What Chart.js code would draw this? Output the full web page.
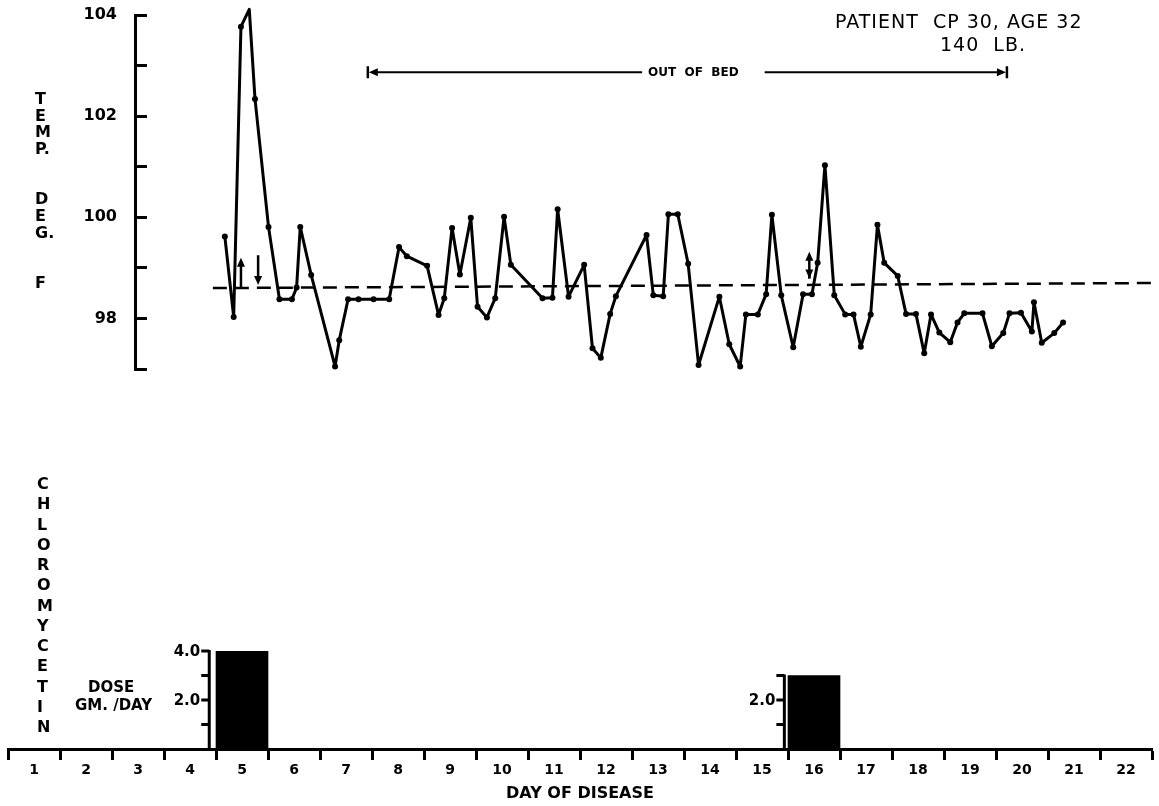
<!DOCTYPE html>
<html>
<head>
<meta charset="utf-8">
<title>Patient CP 30 - temperature and Chloromycetin dose</title>
<script src="https://cdn.jsdelivr.net/npm/chart.js@4.4.1/dist/chart.umd.min.js"></script>
<style>
  body { margin: 0; background: #fff; }
  #wrap { position: relative; width: 1159px; height: 806px; overflow: hidden; }
  canvas { position: absolute; left: 0; top: 0; }
  .txt { position: absolute; font-family: "DejaVu Sans", sans-serif; color: #000; white-space: pre; }
  .bold { font-weight: bold; }
</style>
</head>
<body>
<div id="wrap">
  <canvas id="doseChart" width="1159" height="806"></canvas>
  <canvas id="tempChart" width="1159" height="806"></canvas>

  <div class="txt" style="left:835px; top:11px; font-size:19px; line-height:20px; letter-spacing:1px;">PATIENT  CP 30, AGE 32</div>
  <div class="txt" style="left:940px; top:34px; font-size:19px; line-height:20px; letter-spacing:1px;">140  LB.</div>

  <div class="txt bold" style="left:35px; top:91px; font-size:16px; line-height:16.7px;">T<br>E<br>M<br>P.<br><br><br>D<br>E<br>G.<br><br><br>F</div>
  <div class="txt bold" style="left:37px; top:474px; font-size:16px; line-height:20.25px;">C<br>H<br>L<br>O<br>R<br>O<br>M<br>Y<br>C<br>E<br>T<br>I<br>N</div>
  <div class="txt bold" style="left:88px; top:679px; font-size:15px; line-height:17px;">DOSE</div>
  <div class="txt bold" style="left:75px; top:697px; font-size:15px; line-height:17px;">GM. /DAY</div>
</div>

<script>
// day numbers on the axis
var DAYS = ['1', '2', '3', '4', '5', '6', '7', '8', '9', '10', '11',
            '12', '13', '14', '15', '16', '17', '18', '19', '20', '21', '22'];

// chloromycetin dose, gm/day, one value per day
var DOSE = [null, null, null, null, 4.0, null, null, null, null, null, null,
            null, null, null, null, 3.0, null, null, null, null, null, null];

// time of each reading, in days counted from the start of day 1
var TIME = [4.17, 4.34, 4.48, 4.64, 4.75, 5.01, 5.22, 5.46, 5.55, 5.62, 5.83, 6.29, 6.37, 6.54, 6.74,
            7.03, 7.33, 7.52, 7.67, 8.06, 8.28, 8.39, 8.54, 8.69, 8.90, 9.03, 9.21, 9.37, 9.54, 9.67,
            10.28, 10.47, 10.57, 10.78, 11.08, 11.24, 11.40, 11.58, 11.69, 12.28, 12.41, 12.60, 12.70, 12.88,
            13.08, 13.28, 13.68, 13.87, 14.08, 14.19, 14.42, 14.58, 14.69, 14.87, 15.10, 15.29, 15.46, 15.57,
            15.71, 15.89, 16.10, 16.26, 16.40, 16.59, 16.72, 16.85, 17.11, 17.27, 17.46, 17.62, 17.75, 17.91,
            18.12, 18.26, 18.39, 18.74, 18.92, 19.14, 19.26, 19.48, 19.69, 19.73, 19.88, 20.12, 20.29];

// temperature, deg F
var TEMP = [99.62, 98.03, 103.77, 104.11, 102.34, 99.81, 98.38, 98.38, 98.61, 99.81, 98.86, 97.05, 97.57, 98.38, 98.38,
            98.38, 98.38, 99.41, 99.23, 99.04, 98.07, 98.40, 99.79, 98.87, 99.99, 98.23, 98.02, 98.40, 100.01, 99.06,
            98.40, 98.41, 100.16, 98.43, 99.06, 97.41, 97.22, 98.09, 98.44, 99.65, 98.46, 98.44, 100.06, 100.06,
            99.08, 97.08, 98.43, 97.49, 97.05, 98.08, 98.08, 98.48, 100.05, 98.46, 97.43, 98.48, 98.48, 99.10,
            101.03, 98.46, 98.08, 98.08, 97.44, 98.08, 99.85, 99.10, 98.84, 98.09, 98.09, 97.31, 98.08, 97.72,
            97.53, 97.92, 98.10, 98.10, 97.45, 97.71, 98.10, 98.11, 97.74, 98.32, 97.52, 97.71, 97.92];

// normal temperature reference (dashed)
var NORMAL_TIME = [3.94, 22];
var NORMAL_TEMP = [98.6, 98.7];

// "out of bed" period
var OUT_OF_BED = [6.92, 19.21];

// drug start / stop arrows: [time, from temp, to temp, heads]
var DRUG_MARKS = [
    [4.48, 98.6, 99.2, 'end'],
    [4.81, 99.25, 98.66, 'end'],
    [15.41, 98.79, 99.32, 'both']
];

// small dose axes next to each bar: [time, top value, labelled values]
var DOSE_AXES = [
    [3.87, 4, [4, 2]],
    [14.93, 3, [2]]
];

var TEMP_TICKS_LABELLED = [98, 100, 102, 104];

Chart.defaults.font.family = '"DejaVu Sans", sans-serif';
Chart.defaults.color = '#000';

// chart area edges on the page
var PLOT_LEFT = 8, PLOT_RIGHT = 1152;
var dayWidth = (PLOT_RIGHT - PLOT_LEFT) / DAYS.length;
var tempAxisLeft = 135;

function head(ctx, x, y, dx, dy) {
    // filled arrow head with tip at (x, y) pointing along (dx, dy)
    var len = 9, half = 4;
    ctx.beginPath();
    ctx.moveTo(x, y);
    ctx.lineTo(x - dx * len - dy * half, y - dy * len - dx * half);
    ctx.lineTo(x - dx * len + dy * half, y - dy * len + dx * half);
    ctx.closePath();
    ctx.fill();
}

var tempMarks = {
    id: 'tempMarks',
    afterDatasetsDraw: function (chart) {
        var ctx = chart.ctx;
        var xs = chart.scales.x, ys = chart.scales.y;
        ctx.save();
        ctx.strokeStyle = '#000';
        ctx.fillStyle = '#000';
        ctx.lineWidth = 2.5;

        DRUG_MARKS.forEach(function (m) {
            var x = xs.getPixelForValue(m[0]);
            var y1 = ys.getPixelForValue(m[1]);
            var y2 = ys.getPixelForValue(m[2]);
            var dir = y2 < y1 ? -1 : 1;
            ctx.beginPath();
            ctx.moveTo(x, y1);
            ctx.lineTo(x, y2 - dir * 6);
            ctx.stroke();
            head(ctx, x, y2, 0, dir);
            if (m[3] === 'both') {
                ctx.beginPath();
                ctx.moveTo(x, y1);
                ctx.lineTo(x, y1 + dir * 6);
                ctx.stroke();
                head(ctx, x, y1, 0, -dir);
            }
        });

        // out of bed bracket
        var yb = ys.getPixelForValue(102.87);
        var xa = xs.getPixelForValue(OUT_OF_BED[0]);
        var xb = xs.getPixelForValue(OUT_OF_BED[1]);
        var label = 'OUT  OF  BED';
        ctx.font = 'bold 12px "DejaVu Sans"';
        ctx.textAlign = 'center';
        ctx.textBaseline = 'middle';
        var xc = (xa + xb) / 2 + 6;
        var w = ctx.measureText(label).width;
        ctx.fillText(label, xc, yb + 1);
        ctx.lineWidth = 2;
        ctx.beginPath();
        ctx.moveTo(xa + 6, yb);
        ctx.lineTo(xc - w / 2 - 6, yb);
        ctx.moveTo(xc + w / 2 + 26, yb);
        ctx.lineTo(xb - 6, yb);
        ctx.stroke();
        head(ctx, xa + 1, yb, -1, 0);
        head(ctx, xb - 1, yb, 1, 0);
        ctx.lineWidth = 2.5;
        ctx.beginPath();
        ctx.moveTo(xa, yb - 6);
        ctx.lineTo(xa, yb + 6);
        ctx.moveTo(xb, yb - 6);
        ctx.lineTo(xb, yb + 6);
        ctx.stroke();
        ctx.restore();
    }
};

var doseAxes = {
    id: 'doseAxes',
    afterDatasetsDraw: function (chart) {
        var ctx = chart.ctx;
        var xs = chart.scales.xt, ys = chart.scales.y;
        ctx.save();
        ctx.strokeStyle = '#000';
        ctx.fillStyle = '#000';
        ctx.font = 'bold 15px "DejaVu Sans"';
        ctx.textAlign = 'right';
        ctx.textBaseline = 'middle';
        DOSE_AXES.forEach(function (a) {
            var x = xs.getPixelForValue(a[0]);
            ctx.lineWidth = 3;
            ctx.beginPath();
            ctx.moveTo(x, ys.getPixelForValue(0));
            ctx.lineTo(x, ys.getPixelForValue(a[1]) - 1);
            for (var v = 1; v <= a[1]; v++) {
                var y = ys.getPixelForValue(v);
                ctx.moveTo(x, y);
                ctx.lineTo(x - 8, y);
            }
            ctx.stroke();
            a[2].forEach(function (v) {
                ctx.fillText(v.toFixed(1), x - 9, ys.getPixelForValue(v) + 1);
            });
        });
        ctx.restore();
    }
};

var tempPoints = TIME.map(function (t, i) { return { x: t, y: TEMP[i] }; });
var normalPoints = NORMAL_TIME.map(function (t, i) { return { x: t, y: NORMAL_TEMP[i] }; });

new Chart(document.getElementById('tempChart'), {
    type: 'line',
    data: {
        datasets: [{
            label: 'Temp. deg. F',
            data: tempPoints,
            borderColor: '#000',
            backgroundColor: '#000',
            borderWidth: 3,
            borderJoinStyle: 'round',
            borderCapStyle: 'round',
            pointRadius: 3,
            pointBorderWidth: 0,
            tension: 0,
            clip: false
        }, {
            label: 'Normal',
            data: normalPoints,
            borderColor: '#000',
            borderWidth: 2.5,
            borderDash: [14, 8],
            pointRadius: 0,
            clip: false
        }]
    },
    options: {
        responsive: false,
        animation: false,
        events: [],
        layout: { padding: { left: 0, top: 15, right: 1159 - PLOT_RIGHT, bottom: 806 - 369 } },
        plugins: { legend: { display: false }, tooltip: { enabled: false } },
        scales: {
            x: {
                type: 'linear',
                display: false,
                offset: false,
                min: (tempAxisLeft - PLOT_LEFT) / dayWidth,
                max: DAYS.length
            },
            y: {
                type: 'linear',
                position: 'left',
                min: 97,
                max: 104,
                afterFit: function (scale) {
                    scale.width = tempAxisLeft;
                    scale.paddingTop = 0;
                    scale.paddingBottom = 0;
                },
                border: { color: '#000', width: 3 },
                grid: { drawOnChartArea: false, tickLength: -12, tickWidth: 3, tickColor: '#000' },
                ticks: {
                    stepSize: 1,
                    padding: 30,
                    font: { size: 16, weight: 'bold' },
                    callback: function (v) { return TEMP_TICKS_LABELLED.indexOf(v) >= 0 ? String(v) : ''; }
                }
            }
        }
    },
    plugins: [tempMarks]
});

new Chart(document.getElementById('doseChart'), {
    type: 'bar',
    data: {
        labels: DAYS,
        datasets: [{
            label: 'Dose gm./day',
            data: DOSE,
            xAxisID: 'x',
            yAxisID: 'y',
            backgroundColor: '#000',
            borderWidth: 0,
            barPercentage: 1,
            categoryPercentage: 1
        }]
    },
    options: {
        responsive: false,
        animation: false,
        events: [],
        layout: { padding: { left: PLOT_LEFT, top: 651, right: 1159 - PLOT_RIGHT, bottom: 0 } },
        plugins: { legend: { display: false }, tooltip: { enabled: false } },
        scales: {
            x: {
                type: 'category',
                position: 'bottom',
                offset: true,
                afterFit: function (scale) { scale.height = 806 - 749; },
                border: { color: '#000', width: 3 },
                grid: { offset: true, drawOnChartArea: false, tickLength: 11, tickWidth: 3, tickColor: '#000' },
                ticks: { padding: 2, maxRotation: 0, autoSkip: false, font: { size: 14, weight: 'bold' } },
                title: { display: true, text: 'DAY OF DISEASE', font: { size: 16, weight: 'bold' }, padding: { top: 0, bottom: 3 } }
            },
            xt: { type: 'linear', position: 'bottom', display: false, offset: false, min: 0, max: DAYS.length },
            y: { type: 'linear', display: false, min: 0, max: 4 }
        }
    },
    plugins: [doseAxes]
});
</script>
</body>
</html>
